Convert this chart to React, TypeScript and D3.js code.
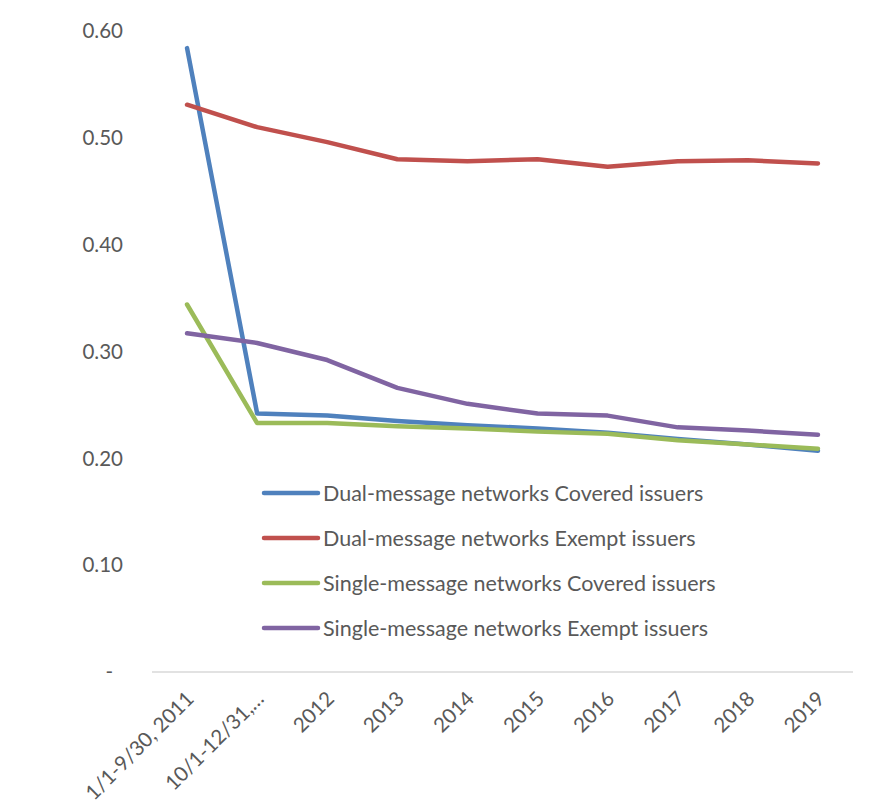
import React, { useEffect, useRef } from 'react';
import * as d3 from 'd3';

const categories = [
    '1/1-9/30, 2011', '10/1-12/31,…', '2012', '2013', '2014',
    '2015', '2016', '2017', '2018', '2019'
];

const dualCovered = [0.584, 0.242, 0.240, 0.235, 0.231, 0.228, 0.224, 0.218, 0.213, 0.207];
const dualExempt = [0.531, 0.510, 0.496, 0.480, 0.478, 0.480, 0.473, 0.478, 0.479, 0.476];
const singleCovered = [0.344, 0.233, 0.233, 0.230, 0.228, 0.225, 0.223, 0.217, 0.213, 0.209];
const singleExempt = [0.317, 0.308, 0.292, 0.266, 0.251, 0.242, 0.240, 0.229, 0.226, 0.222];

const yTicks = [0, 0.1, 0.2, 0.3, 0.4, 0.5, 0.6];

const seriesNames = [
    'Dual-message networks Covered issuers',
    'Dual-message networks Exempt issuers',
    'Single-message networks Covered issuers',
    'Single-message networks Exempt issuers'
];
const seriesColors = ['#4F81BD', '#C0504D', '#9BBB59', '#8064A2'];

const WIDTH = 880;
const HEIGHT = 809;
const FONT = "Lato, 'Open Sans', sans-serif";

export default function App() {
    const svgRef = useRef<SVGSVGElement>(null);

    useEffect(() => {
        if (!svgRef.current) return;
        const svg = d3.select(svgRef.current);
        svg.selectAll('*').remove();

        const plot = { left: 152, right: 853, top: 31, bottom: 672 };

        const x = d3.scaleBand<string>()
            .domain(categories)
            .range([plot.left, plot.right]);

        const y = d3.scaleLinear()
            .domain([0, 0.6])
            .range([plot.bottom, plot.top]);

        const cx = (c: string) => (x(c) || 0) + x.bandwidth() / 2;

        // x axis line
        svg.append('line')
            .attr('x1', plot.left)
            .attr('x2', plot.right)
            .attr('y1', plot.bottom)
            .attr('y2', plot.bottom)
            .attr('stroke', '#d9d9d9')
            .attr('stroke-width', 1.5);

        // y tick labels
        svg.append('g')
            .selectAll('text')
            .data(yTicks)
            .join('text')
            .attr('x', d => (d === 0 ? 113 : 123))
            .attr('y', d => y(d))
            .attr('dy', '0.35em')
            .attr('text-anchor', 'end')
            .attr('fill', '#595959')
            .style('font-family', FONT)
            .style('font-size', '20.5px')
            .text(d => (d === 0 ? '-' : d3.format('.2f')(d)));

        // x tick labels, rotated
        svg.append('g')
            .selectAll('text')
            .data(categories)
            .join('text')
            .attr('transform', d => `translate(${cx(d) + 3},${plot.bottom + 23}) rotate(-45)`)
            .attr('dy', '0.35em')
            .attr('text-anchor', 'end')
            .attr('fill', '#595959')
            .style('font-family', FONT)
            .style('font-size', '20.5px')
            .text(d => d);

        const allSeries = [dualCovered, dualExempt, singleCovered, singleExempt];

        const line = d3.line<number>()
            .x((_, i) => cx(categories[i]))
            .y(d => y(d));

        allSeries.forEach((values, i) => {
            svg.append('path')
                .datum(values)
                .attr('fill', 'none')
                .attr('stroke', seriesColors[i])
                .attr('stroke-width', 4.5)
                .attr('stroke-linejoin', 'round')
                .attr('stroke-linecap', 'round')
                .attr('d', line);
        });

        // legend
        const legend = svg.append('g').attr('transform', 'translate(264,493)');
        seriesNames.forEach((name, i) => {
            const row = legend.append('g').attr('transform', `translate(0,${i * 45})`);
            row.append('line')
                .attr('x1', 0)
                .attr('x2', 54)
                .attr('stroke', seriesColors[i])
                .attr('stroke-width', 4.5)
                .attr('stroke-linecap', 'round');
            row.append('text')
                .attr('x', 59)
                .attr('dy', '0.35em')
                .attr('fill', '#595959')
                .style('font-family', FONT)
                .style('font-size', '21.5px')
                .text(name);
        });
    }, []);

    return (
        <svg
            ref={svgRef}
            width={WIDTH}
            height={HEIGHT}
            style={{ position: 'absolute', left: 0, top: 0, background: '#fff' }}
        />
    );
}
